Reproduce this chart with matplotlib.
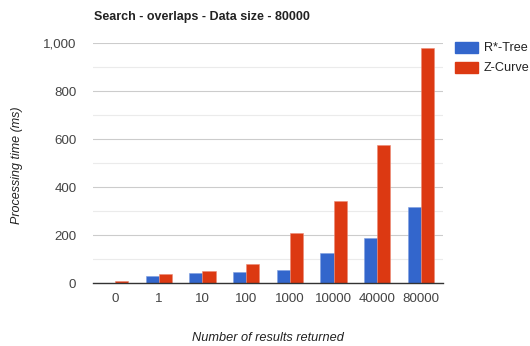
import matplotlib
matplotlib.use("Agg")
import matplotlib.pyplot as plt
import numpy as np
from matplotlib.ticker import MultipleLocator, FuncFormatter

plt.rcParams['font.family'] = ['Liberation Sans', 'DejaVu Sans']

categories = ["0", "1", "10", "100", "1000", "10000", "40000", "80000"]
rtree = [2, 30, 42, 46, 53, 124, 186, 317]
zcurve = [10, 38, 50, 78, 207, 342, 575, 979]
series_names = ["R*-Tree", "Z-Curve"]
colors = ["#3366CC", "#DC3912"]

fig = plt.figure(figsize=(5.30, 3.46), dpi=100)
ax = fig.add_axes([93/530, 1 - 283/346, 350/530, 240/346])

x = np.arange(len(categories))
w = 0.3
ax.bar(x - w/2, rtree, w, color=colors[0], edgecolor="#7f9fe0", linewidth=0.4, zorder=3)
ax.bar(x + w/2, zcurve, w, color=colors[1], edgecolor="#ec8a75", linewidth=0.4, zorder=3)

ax.set_xlim(-0.5, len(categories) - 0.5)
ax.set_ylim(0, 1000)
ax.yaxis.set_major_locator(MultipleLocator(200))
ax.yaxis.set_minor_locator(MultipleLocator(100))
ax.yaxis.set_major_formatter(FuncFormatter(lambda v, p: f"{int(v):,}"))
ax.grid(axis="y", which="major", color="#cccccc", linewidth=0.8, zorder=0)
ax.grid(axis="y", which="minor", color="#ebebeb", linewidth=0.8, zorder=0)
ax.set_xticks(x)
ax.set_xticklabels(categories)
ax.tick_params(axis="both", which="both", length=0, labelsize=9.6, colors="#444444")
ax.tick_params(axis="x", pad=7)
ax.tick_params(axis="y", pad=12)
for s in ["top", "right", "left"]:
    ax.spines[s].set_visible(False)
ax.spines["bottom"].set_color("#333333")
ax.spines["bottom"].set_linewidth(1.0)
ax.spines["bottom"].set_zorder(4)

fig.text(94/530, 1 - 17/346, "Search - overlaps - Data size - 80000", fontsize=9,
         fontweight="bold", color="#222222", va="center", ha="left")
fig.text(17/530, 1 - 165/346, "Processing time (ms)", fontsize=9, style="italic",
         color="#222222", rotation=90, va="center", ha="center")
fig.text(268/530, 1 - 338/346, "Number of results returned", fontsize=9.2, style="italic",
         color="#222222", va="center", ha="center")

# legend
for i, (name, c) in enumerate(zip(series_names, colors)):
    yc = 1 - (48 + i * 20) / 346
    fig.patches.append(plt.Rectangle((455/530, yc - 5/346), 23/530, 11/346,
                                     transform=fig.transFigure, color=c))
    fig.text(484/530, yc, name, fontsize=9.1, color="#222222", va="center", ha="left")

fig.savefig("out.png", dpi=100)
